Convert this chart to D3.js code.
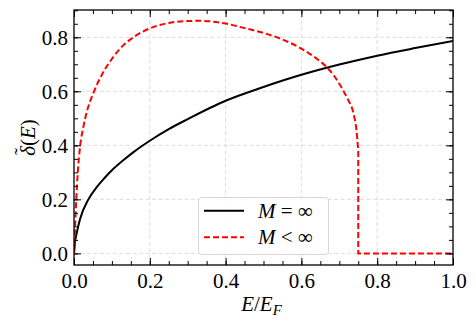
<!DOCTYPE html>
<html>
<head>
<meta charset="utf-8">
<script src="https://cdn.jsdelivr.net/npm/d3@7"></script>
<style>
  body { margin: 0; background: #fff; }
</style>
</head>
<body>
<div class="chart"></div>
<script>
// M = infinity (solid black)
const energyInf = [0, 0.003, 0.007, 0.016, 0.038, 0.06, 0.08, 0.104, 0.13, 0.157, 0.2, 0.25, 0.3, 0.4, 0.5, 0.6, 0.7, 0.8, 0.9, 1.0]
const deltaInf  = [0, 0.045, 0.074, 0.127, 0.2, 0.245, 0.278, 0.313, 0.345, 0.375, 0.417, 0.46, 0.497, 0.565, 0.616, 0.661, 0.699, 0.732, 0.760, 0.786]

// M < infinity (dashed red), curved part up to the drop at E = 0.75
const energyFin = [0, 0.003, 0.006, 0.01, 0.016, 0.025, 0.035, 0.05, 0.075, 0.1, 0.13, 0.16, 0.2, 0.25, 0.3, 0.33, 0.4, 0.45, 0.5, 0.55, 0.6, 0.64, 0.67, 0.7, 0.72, 0.737, 0.745, 0.75]
const deltaFin  = [0, 0.1, 0.2, 0.3, 0.395, 0.47, 0.53, 0.59, 0.665, 0.72, 0.77, 0.803, 0.833, 0.853, 0.86, 0.861, 0.851, 0.834, 0.816, 0.792, 0.758, 0.721, 0.685, 0.628, 0.577, 0.52, 0.46, 0.38]
// flat tail after the drop
const energyTail = [0.75, 1.0]
const deltaTail  = [0, 0]

const xMajor = [0, 0.2, 0.4, 0.6, 0.8, 1.0]
const yMajor = [0, 0.2, 0.4, 0.6, 0.8]
const legendLabels = ["M = \u221e", "M < \u221e"]

const FONT = "'Liberation Serif', 'Times New Roman', serif"
const FS = "21px"

const chart_param = {
    width: 476,
    height: 328,
    margin: { top: 10, right: 23, bottom: 63, left: 74 }
}

const x = d3.scaleLinear()
            .domain([0, 1])
            .range([chart_param.margin.left, chart_param.width - chart_param.margin.right])
const y = d3.scaleLinear()
            .domain([-0.043, 0.901])
            .range([chart_param.height - chart_param.margin.bottom, chart_param.margin.top])

const svg = d3.select(".chart").append("svg")
    .attr("width", chart_param.width)
    .attr("height", chart_param.height)
    .attr("font-family", FONT)

const [x0, x1] = x.range()
const [y0, y1] = y.range()

svg.append("clipPath").attr("id", "plot")
  .append("rect")
  .attr("x", x0).attr("y", y1).attr("width", x1 - x0).attr("height", y0 - y1)

// grid
const grid = svg.append("g").style("stroke", "#d4d4d4").style("stroke-width", 0.8).style("stroke-dasharray", "4,2.5")
grid.selectAll(".gx").data(xMajor.slice(1, -1)).enter().append("line")
    .attr("x1", d => x(d)).attr("x2", d => x(d)).attr("y1", y0).attr("y2", y1)
grid.selectAll(".gy").data(yMajor).enter().append("line")
    .attr("y1", d => y(d)).attr("y2", d => y(d)).attr("x1", x0).attr("x2", x1)

// curves
const seriesInf = energyInf.map((e, i) => [e, deltaInf[i]])
const seriesFin = energyFin.map((e, i) => [e, deltaFin[i]])
const seriesTail = energyTail.map((e, i) => [e, deltaTail[i]])

const smooth = d3.line()
    .x(d => x(d[0]))
    .y(d => y(d[1]))
    .curve(d3.curveMonotoneX)
const straight = d3.line()
    .x(d => x(d[0]))
    .y(d => y(d[1]))

const plot = svg.append("g").attr("clip-path", "url(#plot)")
plot.append("path").datum(seriesInf)
    .attr("d", smooth)
    .style("fill", "none").style("stroke", "#000").style("stroke-width", 2)
// one path so the dash pattern runs on through the drop
plot.append("path")
    .attr("d", smooth(seriesFin) + straight(seriesTail).replace(/^M/, "L"))
    .style("fill", "none").style("stroke", "#ff0000").style("stroke-width", 2)
    .style("stroke-dasharray", "6,3")

// legend
const legend = svg.append("g")
legend.append("rect")
    .attr("x", 198.5).attr("y", 197.5).attr("width", 130).attr("height", 57)
    .attr("rx", 3)
    .style("fill", "#fff").style("fill-opacity", 0.85)
    .style("stroke", "#d6d6d6").style("stroke-width", 1)
const legendStyle = [
    { stroke: "#000", dash: null },
    { stroke: "#ff0000", dash: "6,3" }
]
legendLabels.forEach((label, i) => {
    const ly = 210.7 + i * 26.6
    legend.append("line")
        .attr("x1", 204).attr("x2", 244).attr("y1", ly).attr("y2", ly)
        .style("stroke", legendStyle[i].stroke).style("stroke-width", 2)
        .style("stroke-dasharray", legendStyle[i].dash)
    const t = legend.append("text").attr("x", 258).attr("y", ly + 7)
        .style("font-size", FS).style("font-family", FONT)
    t.append("tspan").style("font-style", "italic").text("M")
    t.append("tspan").text(label.slice(1))
})

// axes: major ticks with labels, minor ticks, top/right ticks
const fmt = d3.format(".1f")
const styleAxis = g => {
    g.attr("font-family", FONT)
    g.select(".domain").remove()
    g.selectAll("line").style("stroke", "#000").style("stroke-width", 1)
    g.selectAll("text").style("font-size", FS).style("font-family", FONT)
}

svg.append("g").attr("transform", `translate(0,${y0})`)
    .call(d3.axisBottom(x).tickValues(xMajor).tickFormat(fmt).tickSize(-7).tickPadding(8))
    .call(styleAxis)
svg.append("g").attr("transform", `translate(0,${y0})`)
    .call(d3.axisBottom(x).ticks(20).tickFormat("").tickSize(-4))
    .call(styleAxis)
svg.append("g").attr("transform", `translate(0,${y1})`)
    .call(d3.axisTop(x).tickValues(xMajor).tickFormat("").tickSize(-7))
    .call(styleAxis)
svg.append("g").attr("transform", `translate(0,${y1})`)
    .call(d3.axisTop(x).ticks(20).tickFormat("").tickSize(-4))
    .call(styleAxis)

svg.append("g").attr("transform", `translate(${x0},0)`)
    .call(d3.axisLeft(y).tickValues(yMajor).tickFormat(fmt).tickSize(-7).tickPadding(6))
    .call(styleAxis)
svg.append("g").attr("transform", `translate(${x0},0)`)
    .call(d3.axisLeft(y).ticks(20).tickFormat("").tickSize(-4))
    .call(styleAxis)
svg.append("g").attr("transform", `translate(${x1},0)`)
    .call(d3.axisRight(y).tickValues(yMajor).tickFormat("").tickSize(-7))
    .call(styleAxis)
svg.append("g").attr("transform", `translate(${x1},0)`)
    .call(d3.axisRight(y).ticks(20).tickFormat("").tickSize(-4))
    .call(styleAxis)

// frame
svg.append("rect")
    .attr("x", x0).attr("y", y1).attr("width", x1 - x0).attr("height", y0 - y1)
    .style("fill", "none").style("stroke", "#000").style("stroke-width", 1.3)

// axis labels
const xl = svg.append("text")
    .attr("x", (x0 + x1) / 2 - 2).attr("y", 311)
    .attr("text-anchor", "middle").style("font-size", FS).style("font-family", FONT)
xl.append("tspan").style("font-style", "italic").text("E")
xl.append("tspan").text("/")
xl.append("tspan").style("font-style", "italic").text("E")
xl.append("tspan").style("font-style", "italic").style("font-size", "15px").attr("dy", 4).text("F")

// y label: delta with a tilde placed over it
const yl = svg.append("text")
    .attr("transform", `translate(35,${(y0 + y1) / 2}) rotate(-90)`)
    .attr("text-anchor", "middle").style("font-size", FS).style("font-family", FONT)
yl.append("tspan").style("font-style", "italic").text("\u03b4")
yl.append("tspan").attr("dx", "-0.42em").attr("dy", "-0.3em").text("\u02dc")
yl.append("tspan").attr("dx", "0.09em").attr("dy", "0.3em").text("(")
yl.append("tspan").style("font-style", "italic").text("E")
yl.append("tspan").text(")")
</script>
</body>
</html>
